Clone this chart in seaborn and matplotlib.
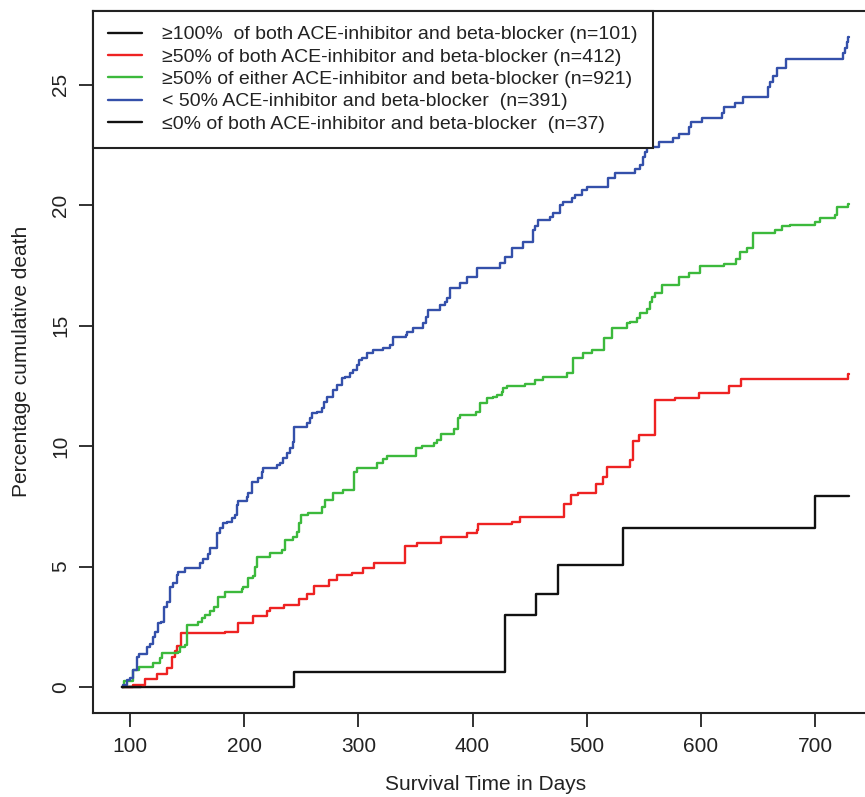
import numpy as np
import pandas as pd
import matplotlib
matplotlib.use("Agg")
import matplotlib.pyplot as plt
from matplotlib.lines import Line2D
import seaborn as sns

# ---------------- data ----------------
labels = [
    "\u2265100%  of both ACE-inhibitor and beta-blocker (n=101)",
    "\u226550% of both ACE-inhibitor and beta-blocker (n=412)",
    "\u226550% of either ACE-inhibitor and beta-blocker (n=921)",
    "< 50% ACE-inhibitor and beta-blocker  (n=391)",
    "\u22640% of both ACE-inhibitor and beta-blocker  (n=37)",
]
colors = ["#111111", "#ee2222", "#3cb93c", "#3450aa", "#111111"]

black1_days = [92.7, 243.6, 428.5, 455.6, 475.0, 531.5, 700.0, 730.0]
black1_pct = [0.0, 0.62, 3.0, 3.85, 5.05, 6.6, 7.93, 7.93]

red_days = [92.7, 103.0, 113.1, 123.4, 132.7, 136.5, 139.4, 141.5, 144.4, 183.2,
            194.9, 208.0, 219.7, 222.6, 234.9, 248.3, 254.7, 261.2, 274.6, 281.0,
            294.2, 304.4, 314.0, 340.9, 351.1, 372.1, 394.9, 403.6, 405.1, 434.3,
            441.6, 480.5, 486.0, 492.7, 508.2, 514.0, 517.5, 537.9, 541.0, 546.0,
            560.0, 577.0, 598.0, 625.0, 635.0, 729.0, 730.0]
red_pct = [0.0, 0.1, 0.35, 0.55, 0.8, 1.25, 1.5, 1.7, 2.25, 2.3,
           2.65, 2.95, 3.15, 3.3, 3.4, 3.65, 3.85, 4.2, 4.45, 4.65,
           4.75, 4.93, 5.14, 5.87, 5.97, 6.22, 6.38, 6.52, 6.77, 6.86,
           7.07, 7.6, 7.97, 8.07, 8.43, 8.71, 9.15, 9.43, 10.2, 10.45,
           11.9, 12.0, 12.2, 12.5, 12.8, 13.0, 13.0]

green_days = [92.7, 95.0, 102.3, 108.0, 120.4, 126.3, 127.7, 142.3, 143.8, 148.2,
              149.6, 159.9, 162.8, 165.7, 170.1, 173.6, 177.4, 183.2, 197.8, 199.3,
              203.7, 208.1, 209.5, 211.0, 222.6, 232.9, 235.8, 243.1, 246.0, 248.4,
              249.5, 256.3, 268.0, 270.8, 278.1, 286.9, 296.5, 298.5, 316.0, 321.9,
              324.8, 350.5, 355.5, 366.0, 368.6, 372.1, 383.8, 387.6, 389.0, 403.1,
              406.6, 412.4, 418.3, 421.2, 425.6, 427.0, 429.9, 446.0, 454.8, 462.0,
              482.4, 488.3, 497.0, 504.4, 515.2, 521.9, 535.0, 538.0, 543.8, 546.7,
              552.6, 555.5, 556.9, 559.8, 565.7, 581.2, 589.9, 599.3, 620.3, 630.8,
              634.3, 640.2, 646.0, 665.0, 670.8, 678.1, 700.0, 704.4, 717.5, 719.6,
              729.2, 730.0]
green_pct = [0.0, 0.25, 0.71, 0.84, 0.98, 1.19, 1.42, 1.47, 1.68, 1.74,
             2.57, 2.71, 2.85, 2.98, 3.16, 3.33, 3.75, 3.96, 4.05, 4.17,
             4.51, 4.61, 4.98, 5.38, 5.58, 5.69, 6.10, 6.21, 6.45, 6.82,
             7.14, 7.24, 7.49, 7.77, 8.04, 8.18, 8.94, 9.08, 9.32, 9.45,
             9.60, 9.91, 10.01, 10.12, 10.26, 10.52, 10.70, 11.16, 11.30, 11.43,
             11.80, 11.98, 12.06, 12.13, 12.26, 12.40, 12.50, 12.58, 12.75, 12.89,
             13.03, 13.65, 13.86, 13.99, 14.48, 14.89, 15.10, 15.17, 15.31, 15.52,
             15.68, 16.00, 16.21, 16.35, 16.69, 17.03, 17.18, 17.46, 17.55, 17.76,
             18.08, 18.22, 18.84, 18.98, 19.12, 19.19, 19.32, 19.46, 19.60, 19.95,
             20.05, 20.05]

blue_days = [92.7, 94.2, 97.1, 100.1, 102.4, 106.5, 108.2, 114.6, 117.6, 119.9,
             121.9, 124.9, 126.9, 129.8, 132.7, 135.1, 137.4, 140.9, 142.3, 148.2,
             161.3, 164.2, 168.6, 170.1, 175.9, 178.8, 181.7, 184.6, 189.0, 192.0,
             193.4, 194.9, 202.2, 203.7, 206.6, 212.4, 215.3, 216.8, 228.5, 231.4,
             234.3, 237.2, 240.2, 243.1, 243.8, 254.8, 257.7, 259.1, 263.5, 267.9,
             270.0, 272.3, 278.1, 281.0, 285.4, 288.3, 292.7, 295.6, 298.5, 300.9,
             302.9, 307.3, 313.1, 321.9, 327.7, 330.6, 341.7, 342.9, 348.2, 356.9,
             359.3, 361.3, 371.5, 375.9, 377.4, 380.3, 389.0, 394.9, 403.6, 424.1,
             428.5, 434.3, 444.5, 453.3, 454.7, 457.6, 467.8, 470.8, 476.6, 479.5,
             486.8, 489.7, 495.6, 500.0, 519.0, 524.8, 542.3, 546.7, 549.1, 551.1,
             552.6, 563.7, 575.3, 581.2, 589.9, 591.1, 600.8, 618.3, 620.3, 630.0,
             636.7, 659.2, 660.6, 663.0, 666.5, 674.7, 724.9, 726.4, 728.4, 729.3,
             730.0]
blue_pct = [0.0, 0.08, 0.29, 0.36, 0.71, 1.25, 1.37, 1.68, 1.79, 2.09,
            2.30, 2.64, 2.71, 3.33, 3.54, 4.17, 4.30, 4.65, 4.79, 4.93,
            5.14, 5.30, 5.52, 5.76, 6.38, 6.59, 6.80, 6.87, 7.00, 7.14,
            7.55, 7.72, 7.90, 8.04, 8.52, 8.66, 8.94, 9.08, 9.22, 9.29,
            9.50, 9.71, 9.91, 10.19, 10.81, 10.95, 11.16, 11.36, 11.43, 11.57,
            11.85, 12.06, 12.33, 12.54, 12.82, 12.89, 13.03, 13.17, 13.37, 13.58,
            13.65, 13.86, 14.00, 14.06, 14.20, 14.55, 14.62, 14.76, 14.90, 15.10,
            15.38, 15.65, 15.86, 16.00, 16.14, 16.55, 16.76, 17.03, 17.38, 17.59,
            17.87, 18.22, 18.49, 18.98, 19.12, 19.39, 19.53, 19.70, 20.02, 20.12,
            20.30, 20.44, 20.62, 20.78, 21.13, 21.33, 21.50, 21.68, 22.02, 22.23,
            22.44, 22.61, 22.79, 22.97, 23.27, 23.44, 23.61, 23.85, 24.07, 24.24,
            24.51, 24.93, 25.14, 25.35, 25.69, 26.06, 26.31, 26.52, 26.80, 27.00,
            27.00]

black2_days = [92.7, 110.0]
black2_pct = [0.0, 0.0]

x_ticks = [100, 200, 300, 400, 500, 600, 700]
y_ticks = [0, 5, 10, 15, 20, 25]

series = [(black1_days, black1_pct), (red_days, red_pct), (green_days, green_pct),
          (blue_days, blue_pct), (black2_days, black2_pct)]
frames = []
for lab, (d, p) in zip(labels, series):
    frames.append(pd.DataFrame({"day": d, "pct": p, "group": lab}))
df = pd.concat(frames, ignore_index=True)

# ---------------- style ----------------
sns.set_theme(style="white")
plt.rcParams["font.family"] = ["Liberation Sans", "DejaVu Sans"]

W, H = 865, 797
fig = plt.figure(figsize=(W / 100, H / 100), dpi=100)
ax_l, ax_r, ax_t, ax_b = 92.5, 878.0, 10.7, 713.0
ax = fig.add_axes([ax_l / W, 1 - ax_b / H, (ax_r - ax_l) / W, (ax_b - ax_t) / H])

pal = dict(zip(labels, colors))
sns.lineplot(data=df, x="day", y="pct", hue="group", palette=pal,
             hue_order=labels, estimator=None, sort=False,
             drawstyle="steps-post", linewidth=1.7, legend=False, ax=ax)

px_per_day = 1.1417
x0 = 100 - (130 - ax_l) / px_per_day
x1 = 100 + (ax_r - 130) / px_per_day
ax.set_xlim(x0, x1)
ax.set_ylim(-1.08, 28.08)

ax.set_xticks(x_ticks)
ax.set_yticks(y_ticks)
ax.set_yticklabels([str(v) for v in y_ticks], rotation=90, va="center")
ax.tick_params(axis="both", which="both", length=10, width=1.3, color="#222222",
               labelsize=15, labelcolor="#222222", direction="out")
ax.tick_params(axis="x", pad=7)
ax.tick_params(axis="y", pad=6)
ax.xaxis.set_ticks_position("bottom")
ax.yaxis.set_ticks_position("left")

for s in ax.spines.values():
    s.set_visible(True)
    s.set_color("#222222")
    s.set_linewidth(1.5)

ax.set_xlabel("Survival Time in Days", fontsize=15, color="#222222", va="center")
ax.set_ylabel("Percentage cumulative death", fontsize=15, color="#222222", va="center")
ax.xaxis.set_label_coords(0.5, (ax_b - 785) / (ax_b - ax_t))
ax.yaxis.set_label_coords((22 - ax_l) / (ax_r - ax_l), 0.5)
ax.grid(False)

handles = [Line2D([0], [0], color=c, lw=1.7) for c in colors]
leg = ax.legend(handles, labels, loc="upper left", bbox_to_anchor=(0, 1),
                borderaxespad=0, fontsize=14, frameon=True, fancybox=False,
                handlelength=1.75, handletextpad=1.05, labelspacing=0.24,
                borderpad=0.78)
leg.get_frame().set_edgecolor("#222222")
leg.get_frame().set_linewidth(1.5)
leg.get_frame().set_facecolor("white")
leg.get_frame().set_alpha(1)
for t in leg.get_texts():
    t.set_color("#222222")

fig.savefig("out.png", dpi=100)
